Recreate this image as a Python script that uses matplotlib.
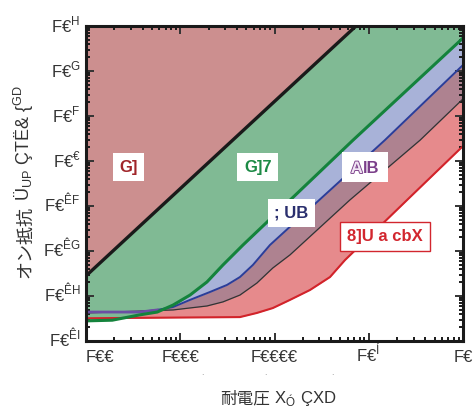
import numpy as np
import matplotlib
matplotlib.use("Agg")
import matplotlib.pyplot as plt
import matplotlib.patheffects as pe
import matplotlib.transforms as mtransforms
from matplotlib.patches import Rectangle
from matplotlib.ticker import NullFormatter

plt.rcParams['font.family'] = ['Liberation Sans', 'Noto Sans CJK JP', 'DejaVu Sans']

# Datos (tensión de ruptura V, resistencia R)
si_v = [100, 73300]
si_r = [2.8e-3, 1000]

sic_v = [100, 190, 370, 570, 840, 1270, 1920, 2840, 4630, 68000, 1e6]
sic_r = [2.8e-4, 2.9e-4, 3.8e-4, 4.4e-4, 6.3e-4, 1.05e-3, 2.05e-3, 4.9e-3, 1.36e-2, 2.9, 540]

gan_v = [100, 370, 570, 840, 1270, 2070, 3130, 4300, 5900, 8950, 148000, 1e6]
gan_r = [4.4e-4, 4.4e-4, 4.9e-4, 5.7e-4, 8.2e-4, 1.23e-3, 1.76e-3, 2.64e-3, 4.9e-3, 1.36e-2, 2.9, 136]

aln_v = [100, 840, 1920, 2840, 4300, 6500, 9600, 14600, 63000, 350000, 1e6]
aln_r = [4.2e-4, 4.9e-4, 6.0e-4, 7.4e-4, 1.05e-3, 1.94e-3, 4.2e-3, 8.2e-3, 0.136, 2.9, 24]

dia_v = [100, 4300, 6500, 9600, 14600, 23800, 38800, 56000, 255000, 1e6]
dia_r = [3.2e-4, 3.4e-4, 4.2e-4, 5.4e-4, 8.2e-4, 1.36e-3, 2.64e-3, 6.3e-3, 0.136, 2.15]

xticks = [1e2, 1e3, 1e4, 1e5, 1e6]
xlabels = ['F€€', 'F€€€', 'F€€€€', 'F€$^{\\mathregular{Í}}$', 'F€']
yticks = [1e-4, 1e-3, 1e-2, 1e-1, 1e0, 1e1, 1e2, 1e3]
ylabels = ['F€$^{\\mathregular{ÊI}}$', 'F€$^{\\mathregular{ÊH}}$', 'F€$^{\\mathregular{ÊG}}$',
           'F€$^{\\mathregular{ÊF}}$', 'F€$^{\\mathregular{€}}$', 'F€$^{\\mathregular{F}}$',
           'F€$^{\\mathregular{G}}$', 'F€$^{\\mathregular{H}}$']

fig = plt.figure(figsize=(4.73, 4.08), dpi=100)
ax = fig.add_axes([86/473, 1-341/408, 377/473, 315/408])
ax.set_xscale('log')
ax.set_yscale('log')

top = 1e4
# rellenos, de abajo hacia arriba
ax.fill_between(dia_v, dia_r, top, color='#E68A8C', lw=0)
ax.fill_between(aln_v, aln_r, top, color='#AE8290', lw=0)
ax.fill_between(gan_v, gan_r, top, color='#A8B2D8', lw=0)
ax.fill_between(sic_v, sic_r, top, color='#80BA94', lw=0)
ax.fill_between(si_v, si_r, top, color='#CC8F8F', lw=0)

# curvas límite
ax.plot(dia_v, dia_r, color='#D2232A', lw=1.5)
ax.plot(aln_v, aln_r, color='#333333', lw=0.9)
ax.plot(gan_v, gan_r, color='#2B3D99', lw=1.4)
ax.plot(gan_v[:3], gan_r[:3], color='#6B4FA3', lw=2)
ax.plot(sic_v, sic_r, color='#14833C', lw=2.2)
ax.plot(si_v, si_r, color='#1A1A1A', lw=2.4)

ax.set_xlim(1e2, 1e6)
ax.set_ylim(1e-4, 1e3)

ax.set_xticks(xticks)
ax.set_xticklabels(xlabels)
ax.set_yticks(yticks)
ax.set_yticklabels(ylabels)
ax.xaxis.set_minor_formatter(NullFormatter())
ax.yaxis.set_minor_formatter(NullFormatter())

ax.tick_params(which='both', direction='in', top=True, right=True, width=1.4, color='#1A1A1A')
ax.tick_params(which='major', length=5.5, labelsize=12, colors='#333333')
ax.tick_params(which='minor', length=3)
ax.tick_params(axis='x', which='major', pad=15)
ax.tick_params(axis='y', which='major', pad=4)
for s in ax.spines.values():
    s.set_linewidth(2.2)
    s.set_color('#1A1A1A')

# alinear por la línea base (el superíndice no debe bajar el texto)
for lab in ax.get_xticklabels():
    lab.set_va('baseline')
ax.get_xticklabels()[0].set_ha('left')
bajar = mtransforms.ScaledTranslation(0, -6/100, fig.dpi_scale_trans)
for lab in ax.get_yticklabels():
    lab.set_va('baseline')
    lab.set_transform(lab.get_transform() + bajar)

# etiquetas de materiales
caja = dict(boxstyle='square,pad=0.4', fc='white', ec='none')
ax.text(0.113, 0.552, 'G]', transform=ax.transAxes, ha='center', va='center',
        fontsize=12, fontweight='bold', color='#A0252A', bbox=caja)
ax.text(0.456, 0.552, 'G]7', transform=ax.transAxes, ha='center', va='center',
        fontsize=12, fontweight='bold', color='#1C8A45', bbox=caja)
ax.text(0.545, 0.406, '; UB', transform=ax.transAxes, ha='center', va='center',
        fontsize=12, fontweight='bold', color='#2A2F6E', bbox=caja)
ax.text(0.793, 0.332, '8]U a cbX', transform=ax.transAxes, ha='center', va='center',
        fontsize=12, fontweight='bold', color='#D2262E',
        bbox=dict(boxstyle='square,pad=0.4', fc='white', ec='#D2262E', lw=1))

# AlB: la "A" hueca y "lB" rellena
ax.add_patch(Rectangle((0.679, 0.505), 0.122, 0.095, transform=ax.transAxes,
                       fc='white', ec='none', zorder=3))
ta = fig.text(0, 235, 'A', transform=None, ha='left', va='baseline', fontsize=12,
              fontweight='bold', color='#F0E4F3', zorder=4,
              path_effects=[pe.Stroke(linewidth=1.3, foreground='#7B3F8A'), pe.Normal()])
tb = fig.text(0, 235, 'lB', transform=None, ha='left', va='baseline', fontsize=12,
              fontweight='bold', color='#7B3F8A', zorder=4)

# títulos de ejes, en trozos (japonés sin mathtext)
tx1 = fig.text(0, 5, '耐電圧', transform=None, fontsize=12, color='#333333',
               family='Noto Sans CJK JP', ha='left', va='baseline')
tx2 = fig.text(0, 5, ' X$_{\\mathregular{Ó}}$ ÇXD', transform=None, fontsize=12,
               color='#333333', ha='left', va='baseline')
ty1 = fig.text(30, 0, 'オン抵抗', transform=None, fontsize=13, color='#333333',
               family='Noto Sans CJK JP', rotation=90, rotation_mode='anchor',
               ha='left', va='baseline')
ty2 = fig.text(30, 0, ' Ü$_{\\mathregular{UP}}$ ÇTË& {$^{\\mathregular{GD}}$', transform=None,
               fontsize=13, color='#333333', rotation=90, rotation_mode='anchor',
               ha='left', va='baseline')

fig.canvas.draw()
r = fig.canvas.get_renderer()
wa = ta.get_window_extent(r).width
wb = tb.get_window_extent(r).width
x0 = 365 - (wa + wb) / 2
ta.set_x(x0)
tb.set_x(x0 + wa)

w1 = tx1.get_window_extent(r).width
w2 = tx2.get_window_extent(r).width
x0 = 278 - (w1 + w2) / 2
tx1.set_x(x0)
tx2.set_x(x0 + w1)

h1 = ty1.get_window_extent(r).height
h2 = ty2.get_window_extent(r).height
y0 = (408 - 181.5) - (h1 + h2) / 2
ty1.set_y(y0)
ty2.set_y(y0 + h1)

for xm in [0.308, 0.477, 0.653]:
    ax.text(xm, -0.117, 'ˊ', transform=ax.transAxes, ha='center', va='center',
            fontsize=5, color='#777777')

fig.savefig('out.png', dpi=100)
